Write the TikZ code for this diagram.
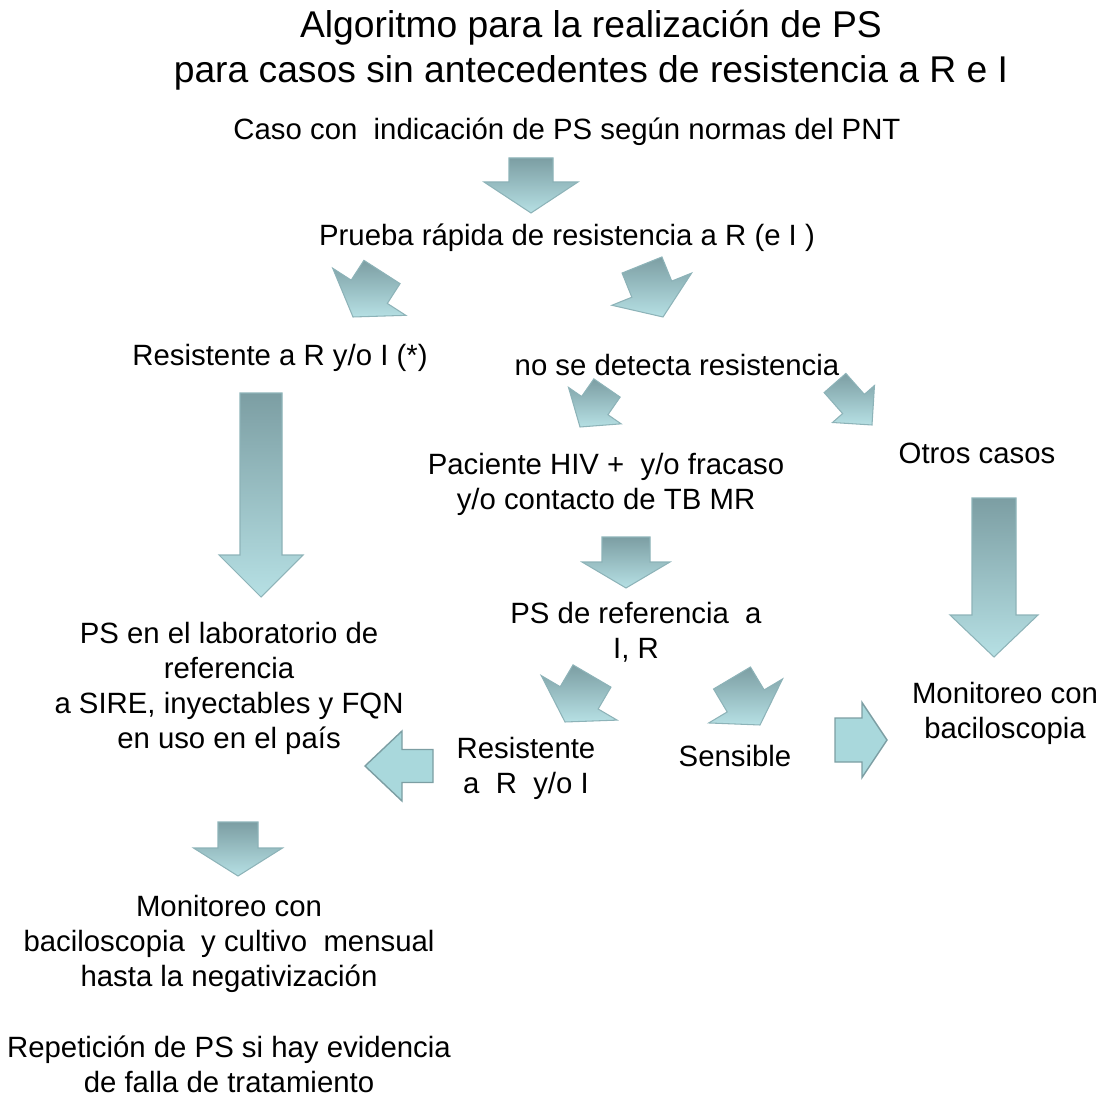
\documentclass[tikz,border=0pt]{standalone}
\usepackage{fontspec}
\setmainfont{Liberation Sans}
\usetikzlibrary{calc}

\definecolor{flechaosc}{HTML}{7C9EA3}
\definecolor{flechacla}{HTML}{B6E0E4}
\definecolor{flechaborde}{HTML}{8DB3B8}
\definecolor{flechaplana}{HTML}{A9D8DC}

\tikzset{
  texto/.style={align=center, inner sep=0pt, font=\fontsize{16.7}{19.9}\selectfont},
  titulo/.style={align=center, inner sep=0pt, font=\fontsize{21.2}{25.6}\selectfont},
  degradada/.style={draw=flechaborde, line width=0.6pt, top color=flechaosc, bottom color=flechacla},
  plana/.style={draw=flechaosc, line width=0.8pt, fill=flechaplana}
}

% flecha de bloque: estilo, x1,y1 (cola), x2,y2 (punta), medio ancho del cuerpo, medio ancho de la punta, largo de la punta
\newcommand{\flecha}[8]{%
  \pgfmathsetmacro{\fang}{atan2(#3-#5,#4-#2)}%
  \pgfmathsetmacro{\flen}{veclen(#4-#2,#5-#3)}%
  \pgfmathsetmacro{\fbase}{\flen-#8}%
  \begin{scope}[shift={(#2,#3)}, rotate=\fang]
    \draw[#1] (0,-#6)--(\fbase,-#6)--(\fbase,-#7)--(\flen,0)--(\fbase,#7)--(\fbase,#6)--(0,#6)--cycle;
  \end{scope}}

\begin{document}
\begin{tikzpicture}[x=0.02cm, y=-0.02cm]
  \useasboundingbox (0,0) rectangle (1102,1098);

  \node[titulo] (tit) at (591,50) {Algoritmo para la realización de PS\\para casos sin antecedentes de resistencia a R e I};

  \node[texto] (caso) at (567,132) {Caso con\ \ indicación de PS según normas del PNT};
  \node[texto] (prueba) at (567,238) {Prueba rápida de resistencia a R (e I )};
  \node[texto] (resR) at (280,358) {Resistente a R y/o I (*)};
  \node[texto] (nodet) at (677,365) {no se detecta resistencia};
  \node[texto] (paciente) at (606,484) {Paciente HIV +\ \ y/o fracaso\\y/o contacto de TB MR};
  \node[texto] (otros) at (977,453) {Otros casos};
  \node[texto] (psref) at (636,632) {PS de referencia\ \ a\\I, R};
  \node[texto] (pslab) at (229,688) {PS en el laboratorio de\\referencia\\a SIRE, inyectables y FQN\\en uso en el país};
  \node[texto] (monit1) at (1005,713) {Monitoreo con\\baciloscopia};
  \node[texto] (resist2) at (526,768) {Resistente\\a\ \ R\ \ y/o I};
  \node[texto] (sensible) at (735,756) {Sensible};
  \node[texto] (monit2) at (229,944) {Monitoreo con\\baciloscopia\ \ y cultivo\ \ mensual\\hasta la negativización};
  \node[texto] (repet) at (229,1064) {Repetición de PS si hay evidencia\\de falla de tratamiento};

  % flechas
  \flecha{degradada}{531}{158}{531}{213}{22}{47}{31}
  \flecha{degradada}{382}{272}{353}{317}{21.5}{43.5}{30}
  \flecha{degradada}{642}{265}{663}{317}{21.5}{43}{30}
  \flecha{degradada}{261}{393}{261}{597}{21}{42}{42}
  \flecha{degradada}{607}{388}{580}{427}{16}{32}{26}
  \flecha{degradada}{835}{383}{872}{425}{14.5}{28}{28}
  \flecha{degradada}{994}{498}{994}{657}{22}{44}{42}
  \flecha{degradada}{626}{537}{626}{588}{24}{44}{26}
  \flecha{degradada}{592}{676}{565}{722}{22}{44}{28}
  \flecha{degradada}{732}{678}{760}{725}{21.5}{43}{28}
  \flecha{plana}{433}{766}{365}{766}{16.5}{35}{37}
  \flecha{plana}{835}{740}{887}{740}{22}{37.5}{25}
  \flecha{degradada}{238}{822}{238}{876}{20}{44.5}{28}
\end{tikzpicture}
\end{document}
